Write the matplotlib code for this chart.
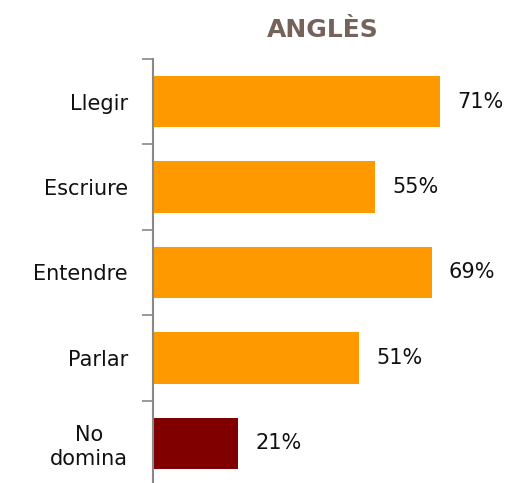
import matplotlib.pyplot as plt
import numpy as np

categories = ['Llegir', 'Escriure', 'Entendre', 'Parlar', 'No\ndomina']
values = [71, 55, 69, 51, 21]
colors = ['#FF9900', '#FF9900', '#FF9900', '#FF9900', '#800000']

plt.rcParams['font.family'] = ['DejaVu Sans']

fig = plt.figure(figsize=(5.08, 4.83), dpi=100)
ax = fig.add_axes([153 / 508, -3 / 483, 323 / 508, 427 / 483])

y = np.arange(len(categories))
ax.barh(y, values, height=0.6, color=colors)
ax.set_ylim(len(categories) - 0.5, -0.5)
ax.set_xlim(0, 80)

for yi, v in zip(y, values):
    ax.text(v + 4.3, yi, f'{v}%', va='center', ha='left', fontsize=15, color='#111111')

ax.set_yticks(y)
ax.set_yticklabels(categories, fontsize=15, color='#111111', linespacing=1.25,
                   multialignment='center')
ax.tick_params(axis='y', which='major', length=0, pad=18)
ax.set_yticks(np.arange(-0.5, len(categories) + 0.5, 1), minor=True)
ax.tick_params(axis='y', which='minor', length=8, color='#888888', width=1.2)
ax.set_xticks([])

for s in ['top', 'right', 'bottom']:
    ax.spines[s].set_visible(False)
ax.spines['left'].set_color('#888888')
ax.spines['left'].set_linewidth(1.5)

fig.text(323 / 508, 1 - 30 / 483, 'ANGLÈS', ha='center', va='center',
         fontsize=18, fontweight='bold', color='#75625A')

fig.savefig('out.png', dpi=100)
